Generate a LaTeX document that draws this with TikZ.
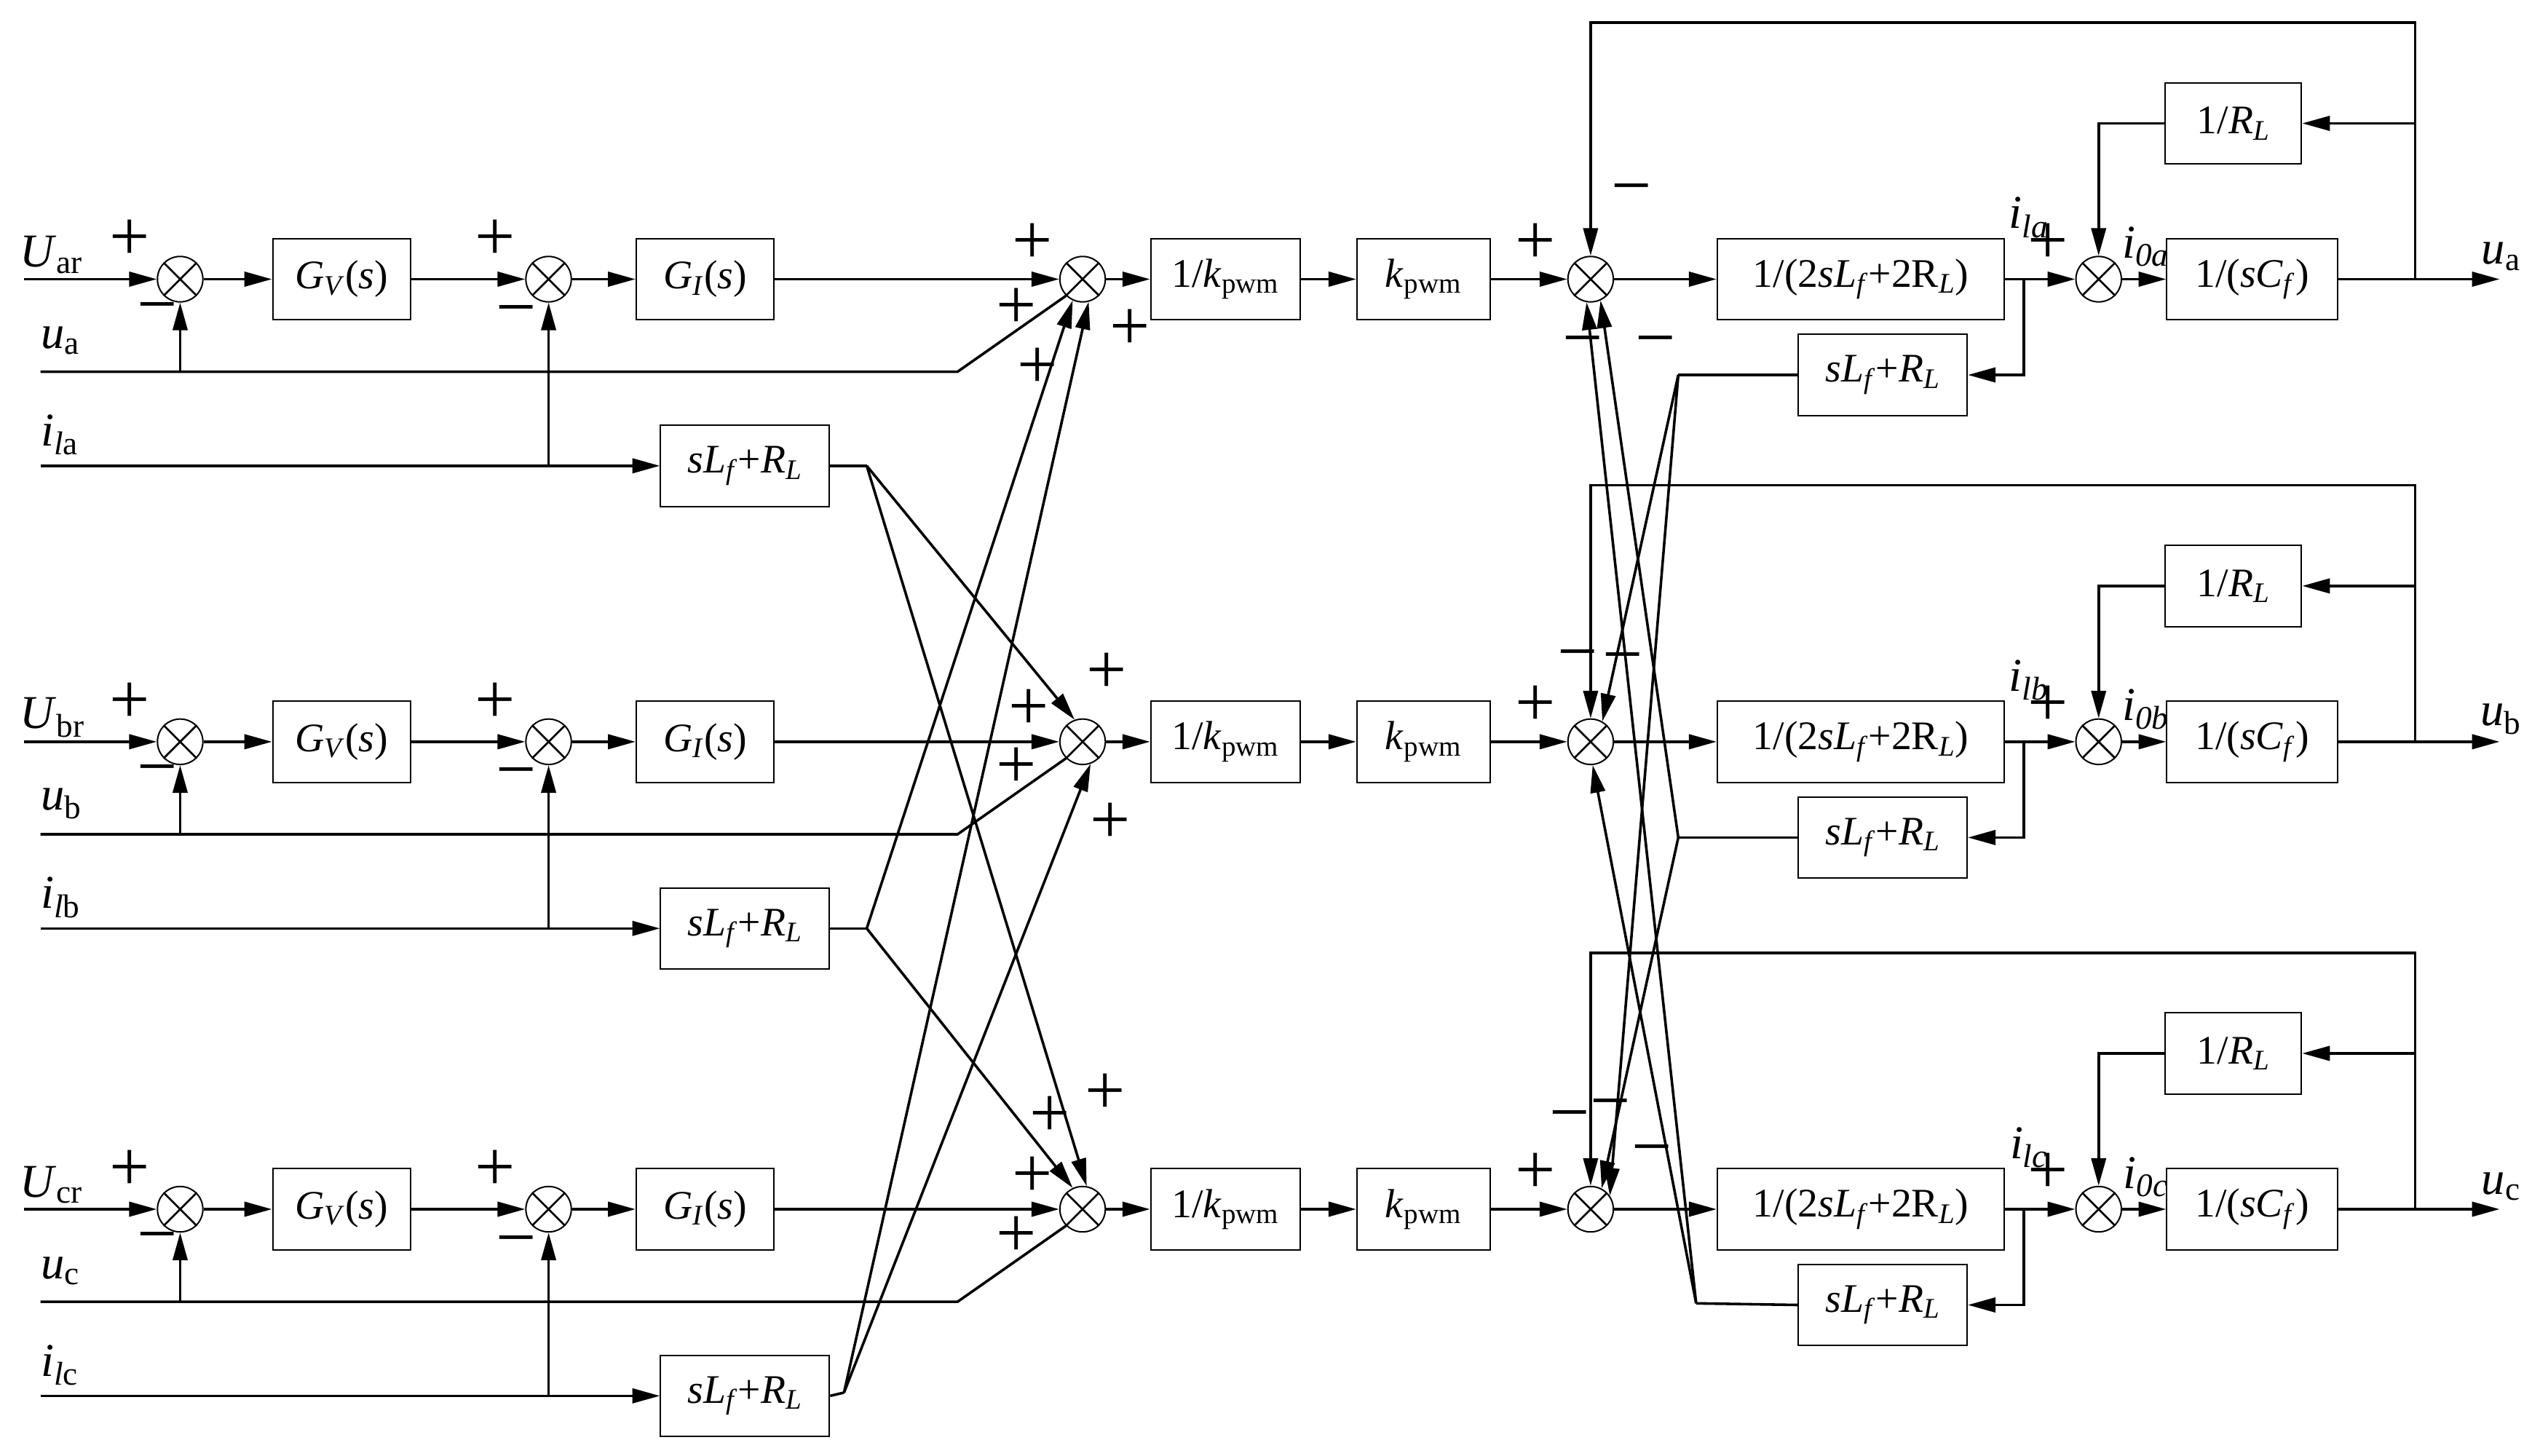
\documentclass[tikz,border=0pt]{standalone}
\usepackage{fontspec}
\setmainfont{Liberation Serif}
\usetikzlibrary{arrows.meta}
\newcommand\mysub[1]{\textsubscript{#1}}
\begin{document}
\begin{tikzpicture}[x=1pt,y=-1pt,
  ln/.style={line width=1.6pt},
  ar/.style={ln,-{Triangle[length=17pt,width=9pt]}},
  box/.style={draw,line width=0.9pt,inner sep=0pt,minimum height=50pt,font=\fontsize{25}{25}\selectfont},
  sum/.style={draw,circle,line width=0.9pt,minimum size=28pt,inner sep=0pt},
  lab/.style={font=\fontsize{29}{29}\selectfont,inner sep=0pt},
  sg/.style={font=\fontsize{44}{44}\selectfont,inner sep=0pt}]
\useasboundingbox (0,0) rectangle (1560,897);
\foreach \r/\y/\U/\ul in {a/172/ar/a,b/457/br/b,c/745/cr/c}{
  \node[sum] (s1\r) at (111,\y) {};
  \node[sum] (s2\r) at (338,\y) {};
  \node[sum] (s3\r) at (667,\y) {};
  \node[sum] (s4\r) at (980,\y) {};
  \node[sum] (s5\r) at (1293,\y) {};
  \foreach \s in {s1\r,s2\r,s3\r,s4\r,s5\r}{
    \draw[line width=1.2pt] (\s.north east)--(\s.south west) (\s.north west)--(\s.south east);}
  \node[box,minimum width=85pt] (gv\r) at (210.5,\y) {\textit{G}\mysub{\textit{V}}(\textit{s})};
  \node[box,minimum width=85pt] (gi\r) at (434.5,\y) {\textit{G}\mysub{\textit{I}}(\textit{s})};
  \node[box,minimum width=92pt] (kp\r) at (755,\y) {1/\textit{k}\mysub{pwm}};
  \node[box,minimum width=82pt] (k\r) at (877,\y) {\textit{k}\mysub{pwm}};
  \node[box,minimum width=177pt] (p\r) at (1146.5,\y) {1/(2\textit{sL}\mysub{\textit{f}}+2R\mysub{\textit{L}})};
  \node[box,minimum width=105pt] (c\r) at (1387.5,\y) {1/(\textit{sC}\mysub{\textit{f}})};
  \node[box,minimum width=84pt] (rl\r) at (1376,\y-96) {1/\textit{R}\mysub{\textit{L}}};
  \node[box,minimum width=104pt] (fr\r) at (1160,\y+59) {\textit{sL}\mysub{\textit{f}}+\textit{R}\mysub{\textit{L}}};
  \node[box,minimum width=104pt] (fl\r) at (459,\y+115) {\textit{sL}\mysub{\textit{f}}+\textit{R}\mysub{\textit{L}}};
  \node[lab,anchor=west] (U\r) at (12,\y-15) {\textit{U}\mysub{\U}};
  \node[lab,anchor=west] (ul\r) at (25,\y+38) {\textit{u}\mysub{\ul}};
  \node[lab,anchor=west] (il\r) at (25,\y+96) {\textit{i}\mysub{\textit{l}\ul}};
  \node[lab] (ir\r) at (1250,\y-38) {\textit{i}\mysub{\textit{l\ul}}};
  \node[lab] (io\r) at (1322,\y-20) {\textit{i}\mysub{\textit{0\ul}}};
  \node[lab] (uo\r) at (1541,\y-14) {\textit{u}\mysub{\ul}};
  \node[sg] at (80,\y-24) {+};
  \node[sg] at (97,\y+22) {−};
  \node[sg] at (305,\y-24) {+};
  \node[sg] at (318,\y+24) {−};
  \node[sg] at (946,\y-22) {+};
  \node[sg] at (1262,\y-22) {+};
  \coordinate (a\r) at (15,\y);
  \coordinate (ub\r) at (590,\y+57);
  \coordinate (us\r) at (25,\y+57);
  \coordinate (is\r) at (25,\y+115);
  \coordinate (o\r) at (1540,\y);
  \draw[ar] (a\r) -- (s1\r);
  \draw[ar] (s1\r) -- (gv\r);
  \draw[ar] (gv\r) -- (s2\r);
  \draw[ar] (s2\r) -- (gi\r);
  \draw[ar] (gi\r) -- (s3\r);
  \draw[ar] (s3\r) -- (kp\r);
  \draw[ar] (kp\r) -- (k\r);
  \draw[ar] (k\r) -- (s4\r);
  \draw[ar] (s4\r) -- (p\r);
  \draw[ar] (p\r) -- (s5\r);
  \draw[ar] (s5\r) -- (c\r);
  \draw[ar] (c\r) -- (o\r);
  \draw[ln] (us\r) -- (ub\r) -- (s3\r.-135);
  \draw[ar] (111,\y+57) -- (s1\r);
  \draw[ar] (is\r) -- (fl\r);
  \draw[ar] (338,\y+115) -- (s2\r);
  \draw[ar] (1488,\y) |- (s4\r.90 |- 0,\y-158) -- (s4\r);
  \draw[ar] (1488,\y-96) -- (rl\r);
  \draw[ar] (rl\r) -| (s5\r);
  \draw[ar] (1247,\y) |- (fr\r);
}
\draw[ln] (fla.east) -- (534,287) coordinate (jla);
\draw[ln] (flb.east) -- (534,572) coordinate (jlb);
\draw[ln] (flc.east) -- (520,858) coordinate (jlc);
\draw[ln] (fra.west) -- (1034,231) coordinate (jra);
\draw[ln] (frb.west) -- (1034,516) coordinate (jrb);
\draw[ln] (frc.west) -- (1045,803) coordinate (jrc);
\draw[ar] (jla) -- (s3b.110);
\draw[ar] (jla) -- (s3c.80);
\draw[ar] (jlb) -- (s3a.-115);
\draw[ar] (jlb) -- (s3c.115);
\draw[ar] (jlc) -- (s3a.-75);
\draw[ar] (jlc) -- (s3b.-70);
\draw[ar] (jra) -- (s4b.60);
\draw[ar] (jra) -- (s4c.35);
\draw[ar] (jrb) -- (s4a.-65);
\draw[ar] (jrb) -- (s4c.62);
\draw[ar] (jrc) -- (s4a.-100);
\draw[ar] (jrc) -- (s4b.-85);
\node[sg] at (636,150) {+}; \node[sg] at (626,190) {+}; \node[sg] at (639,227) {+}; \node[sg] at (696,203) {+};
\node[sg] at (682,415) {+}; \node[sg] at (634,437) {+}; \node[sg] at (626,473) {+}; \node[sg] at (684,507) {+};
\node[sg] at (681,674) {+}; \node[sg] at (647,688) {+}; \node[sg] at (636,725) {+}; \node[sg] at (626,762) {+};
\node[sg] at (1005,121) {−}; \node[sg] at (975,215) {−}; \node[sg] at (1020,215) {−};
\node[sg] at (972,408) {−}; \node[sg] at (1000,410) {−};
\node[sg] at (967,692) {−}; \node[sg] at (992,685) {−}; \node[sg] at (1018,713) {−};
\end{tikzpicture}
\end{document}
